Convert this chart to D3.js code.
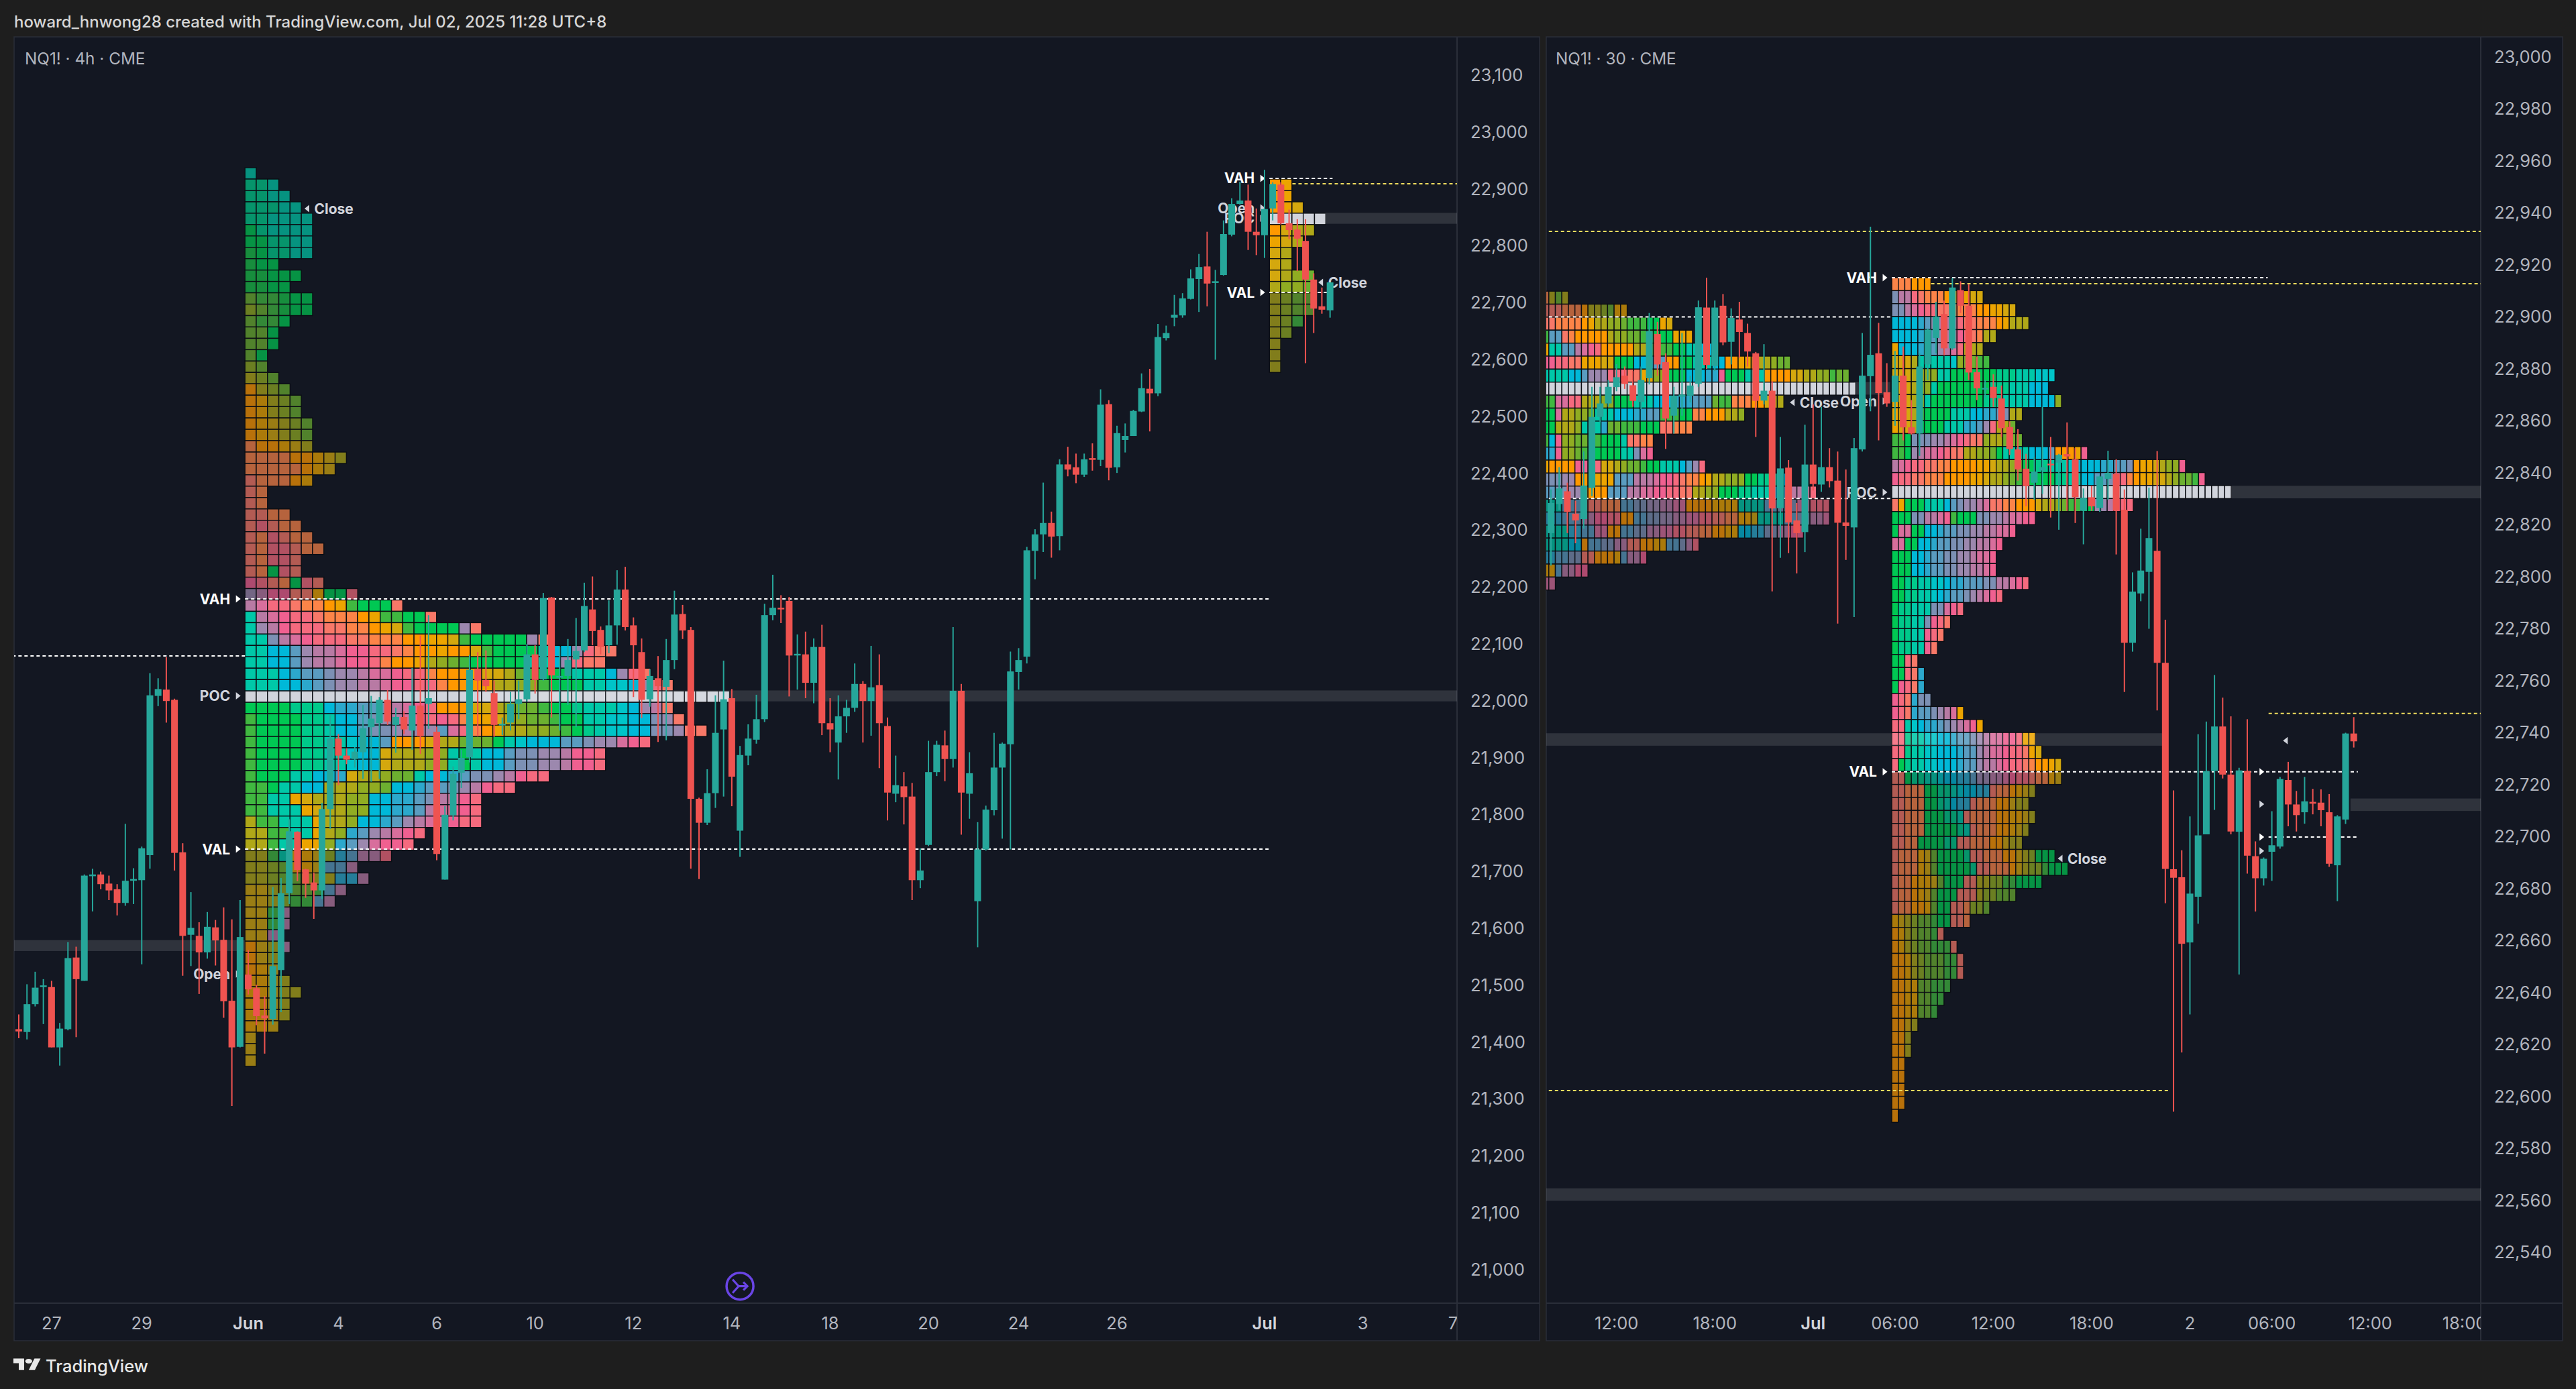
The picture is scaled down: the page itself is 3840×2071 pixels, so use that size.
<!DOCTYPE html>
<html><head><meta charset="utf-8">
<script src="https://cdn.jsdelivr.net/npm/d3@7/dist/d3.min.js"></script>
<style>html,body{margin:0;padding:0;background:#1e1e1e}svg{display:block}text{font-family:Inter,"Noto Sans",sans-serif}</style>
</head><body><svg id="c" width="3840" height="2071"></svg>
<script>
// ---------- candles, 4h pane ----------
const leftOpen=[21423,21418,21467,21497,21497,21391,21423,21549,21508,21692,
21695,21679,21669,21645,21684,21685,21729,22009,22020,22002,
21734,21589,21587,21558,21602,21580,21473,21392,21519,21495,
21447,21441,21527,21662,21770,21704,21681,21667,21810,21934,
21904,21898,21910,21954,21961,22002,21958,21972,21948,21992,
21995,21946,21686,21799,21874,21901,22057,22037,22014,21958,
21962,21995,22003,22082,22038,22182,22041,22044,22073,22089,
22161,22125,22098,22133,22196,22133,22086,22003,22040,22025,
22072,22153,22125,21828,21786,21838,21950,22005,21772,21904,
21932,21968,22151,22164,22176,22081,22082,22032,22095,21961,
21927,21973,21988,22030,22000,22028,21956,21837,21850,21832,
21685,21747,21875,21922,21898,22018,21837,21648,21739,21808,
21883,21924,22051,22078,22264,22293,22313,22290,22416,22411,
22398,22427,22424,22522,22411,22459,22466,22509,22549,22541,
22638,22674,22678,22707,22742,22764,22735,22749,22820,22874,
22880,22825,22819,22866,22908,22840,22829,22809,22741,22694,22687];
const leftClose=[21419,21467,21496,21500,21391,21424,21548,21511,21693,21695,
21678,21667,21645,21684,21687,21741,22010,22021,22000,21733,
21587,21601,21558,21603,21579,21472,21391,21585,21493,21446,
21442,21534,21662,21771,21703,21679,21667,21810,21934,21904,
21897,21911,21952,21969,22002,21964,21972,21950,21992,21938,
22005,21731,21800,21872,21900,22055,22036,22026,21958,21960,
21995,22003,22082,22037,22181,22045,22044,22072,22088,22167,
22123,22095,22133,22196,22130,22098,22002,22044,22026,22072,
22152,22124,21828,21786,21838,21944,22003,21867,21905,21934,
21968,22151,22164,22162,22080,22083,22032,22095,21961,21950,
21973,21988,22030,22000,22024,21961,21839,21852,21831,21685,
21702,21875,21923,21898,22018,21839,21873,21739,21809,21883,
21925,22052,22072,22265,22293,22313,22289,22416,22407,22398,
22425,22424,22521,22410,22471,22466,22510,22550,22541,22640,
22647,22679,22708,22743,22763,22734,22738,22821,22874,22880,
22825,22819,22865,22909,22840,22828,22813,22741,22690,22688,22736];
const leftHigh=[21449,21502,21524,21511,21508,21434,21576,21568,21695,21705,
21700,21693,21678,21784,21706,21744,22049,22040,22077,22004,
21750,21664,21611,21629,21615,21637,21616,21650,21562,21501,
21481,21673,21689,21792,21771,21705,21698,21821,21975,21942,
21917,21919,21993,22009,22007,22019,21988,21982,22058,22115,
22151,21955,21815,21885,21914,22081,22086,22089,22036,21971,
22016,22036,22100,22098,22190,22183,22095,22109,22146,22208,
22219,22131,22177,22230,22236,22147,22110,22056,22079,22109,
22194,22169,22130,21830,21880,22010,22071,22021,21921,21959,
22011,22171,22222,22186,22183,22117,22122,22110,22134,22005,
22010,22002,22066,22035,22097,22082,21971,21904,21875,21856,
21741,21930,21930,21948,22130,22030,21910,21787,21816,21944,
21927,22087,22093,22271,22302,22384,22333,22425,22447,22435,
22435,22453,22548,22529,22484,22488,22512,22576,22584,22663,
22660,22714,22717,22759,22786,22825,22758,22845,22884,22913,
22908,22866,22934,22912,22912,22864,22847,22847,22752,22727,22736];
const leftLow=[21407,21405,21463,21432,21391,21359,21421,21409,21508,21630,
21669,21650,21623,21640,21643,21537,21705,21991,21962,21702,
21517,21534,21485,21547,21535,21443,21288,21391,21484,21430,
21380,21431,21453,21643,21683,21654,21617,21652,21775,21852,
21889,21883,21863,21858,21863,21958,21909,21942,21914,21907,
21951,21720,21686,21790,21847,21892,21938,22016,21937,21940,
21948,21968,21999,22013,22036,21971,21948,21993,21954,22086,
22098,22082,22084,22099,22124,22007,21970,21990,21928,21931,
22056,22109,21705,21687,21782,21812,21832,21815,21726,21887,
21925,21963,22142,22137,22008,22020,22005,21996,21940,21910,
21862,21944,21981,21927,21939,21882,21790,21822,21783,21650,
21671,21745,21868,21859,21883,21765,21793,21567,21737,21799,
21758,21739,22020,22066,22214,22262,22252,22265,22395,22383,
22394,22405,22413,22388,22401,22437,22466,22508,22474,22536,
22634,22659,22674,22706,22684,22694,22600,22748,22817,22873,
22793,22784,22779,22845,22838,22812,22756,22594,22647,22681,22674];
// ---------- candles, 30m pane ----------
const rightOpen=[22816.8,22828,22832.9,22824.3,22822.2,22834.2,22861.5,22866.7,22873,22877.4,
22873.7,22867.3,22876.4,22893.4,22882.6,22862,22869.3,22869.7,22874.3,22903.6,
22881.1,22904.3,22890.4,22899,22893.8,22886,22867.8,22871.6,22826.4,22842,
22821.7,22817.2,22843.2,22835.5,22842.2,22837,22820.9,22819,22849,22877.2,
22886,22871,22867.3,22877.4,22857.5,22855.1,22881.7,22891.9,22901.1,22887.9,
22910.3,22904.3,22878.7,22872.3,22873.1,22868.6,22857.6,22849,22841.6,22836.2,
22840.9,22843.5,22843.9,22847.2,22845.2,22825.4,22830.6,22826.5,22837.7,22839.6,
22825.8,22774.6,22793.6,22801.9,22810,22766.9,22687.5,22684.4,22659.3,22676.9,
22700.9,22725.3,22742.4,22723.9,22701.9,22725.3,22692.5,22684,22694.2,22696.2,
22721.8,22712.4,22709.4,22713.4,22713.1,22709.4,22689,22706.6,22739.7];
const rightClose=[22828.4,22834,22825,22821.7,22835.1,22861.5,22866.7,22873.1,22876.8,22874.2,
22867.7,22875.7,22894.5,22881.7,22860.9,22869.7,22870.1,22873.6,22903.7,22881.5,
22903.6,22890.2,22899.6,22894.2,22886.7,22867.7,22871.6,22826.3,22841.7,22820.9,
22816.8,22843.2,22835.7,22842.2,22836.8,22820.8,22819.6,22849.5,22877.4,22885.4,
22870.7,22866.7,22877.4,22857.5,22855.1,22880.9,22895.1,22900.1,22887.9,22911.3,
22904.3,22878.6,22872.5,22872.7,22868.8,22857.2,22849.2,22841.3,22834.9,22840.5,
22842.2,22842.9,22846.9,22846.3,22830.6,22830.4,22827.1,22838.6,22840,22825.4,
22774.6,22794.3,22802.4,22814.9,22766.9,22687.6,22684.2,22658.8,22678.1,22700.5,
22725.2,22742.4,22723.9,22702,22725.5,22692.7,22684,22691.5,22696.7,22722.2,
22712.4,22708.3,22713.6,22712.7,22710.2,22689.6,22707.8,22739.7,22736.7];
const rightHigh=[22833.6,22842.2,22836.2,22829.3,22848.2,22873.1,22873.1,22875.7,22881.8,22880.9,
22879.2,22880.9,22901.5,22898.1,22886,22873.1,22893.8,22877.4,22906.3,22915.1,
22906.3,22908.8,22903.3,22905.8,22897.4,22886.5,22889.5,22875.3,22853.8,22844.9,
22828.4,22858.5,22866.3,22865.4,22849.5,22848.2,22841.3,22853.4,22893.8,22934.7,
22897.7,22882.2,22886.9,22888.6,22868,22886,22895.5,22905.8,22906.3,22915,
22913.7,22912.7,22884.8,22875.7,22877.9,22873.6,22859.8,22856.8,22847.3,22846,
22865.4,22853.8,22847.3,22859.4,22849.5,22834,22834.9,22839,22848.5,22845.2,
22833.6,22801.7,22818.5,22834.3,22848.4,22783.5,22717.8,22694.8,22707.8,22739.4,
22744.3,22762.2,22753.5,22746.3,22726.5,22745.2,22698.2,22692,22709.8,22723,
22728.8,22717.6,22723,22718.4,22718.2,22716.4,22708.3,22740,22746];
const rightLow=[22804.3,22825.8,22816.8,22812.9,22818.5,22831,22859.4,22865.4,22871.4,22872.3,
22865.4,22864.5,22874,22877.4,22849.2,22855.1,22862,22867.1,22873.1,22880,
22879.2,22889.1,22881.7,22884.3,22880.9,22853.8,22866.3,22794.4,22807.3,22809.1,
22801.3,22809.5,22833.2,22832.7,22834.4,22782,22806.5,22784.5,22848.2,22863.7,
22852.5,22865.4,22858.1,22852.5,22854.7,22846.5,22875.7,22886,22885.2,22887.3,
22901.5,22875.7,22868,22868.8,22865.4,22853.8,22846.9,22837,22827.1,22829.7,
22831.9,22822.8,22818.1,22825.4,22820.7,22812.5,22825.4,22825,22829.7,22808.6,
22755.7,22771.2,22790.6,22780,22748.6,22674.4,22594.2,22617,22631.6,22666.5,
22700.9,22710.3,22722.4,22700.9,22647,22685.8,22671.2,22681.2,22683,22695.4,
22704,22702,22705,22708.6,22704,22688.4,22675.2,22704.9,22734.3];
// ---------- profile letters -> colours ----------
const letters="abcdefghijklmnopqrstuvwz".split("");
const colours=["#00c853","#00c98a","#00c8a8","#00c4c8","#00b8d8","#2ca8cc","#5a9cc0","#7c90b4","#9c88ae","#b87aa4","#d86e9c","#f06090","#f56a7e","#f87868","#fc8448","#ff9800","#eca400","#d4a80e","#b0a818","#90ac22","#6cb030","#40b840","#18c048","#d1d4dc"];
// ---------- profile rows, top to bottom ----------
const bigRows=["c1","b2c1","b2c2","b3c2","b2c4","a1b1c4","a2b2c2","w1a1b2c2","w1a2","w2a3","w2a2","u1v2w1a2","t1u1v1w1a2","u1v2a1","u2a1","u2a1","u1a1","t1u1","s1t1u1","p1s1t1u1","p1q1s1t1u1","p1q1s1t1u1","p1q1r1s1t1u1","p1q1r1s1t1u1","o1p2q1r1s1","o4p2q1r1s1","o5p1q1r1","n1o3p1q1","n1o1","n1o1","n2o2","n1m1n1o2","n1o1m1n1o2","n1o1m2n1o2","n1o1m2n1","n1o1a1m1n1","l1m1n1o1a1m1n1","i1j1l2n2q1a2m1",
"j1k1m2n1o2p1q1v1a3n1","c1j1k1l1m2n1o3p1q1v2a2n1","c1i1j1l1m3n2o2p1q1r1v1a4i1n1","c2h1j1k1l1m3n2o3p2q2r1v1a5i1n1","c2e2g1i1j2k1l2m2n1o1p2q1p2r1v1a4c1e2i1m1n2","c2e2g1i1j2k1l2m1o1p2q1s1t1u1v1a5c2e1i1m1n2","c3e1f1g2h1i2j1k2l1m2o1p3q1r2s1u1v1a3c3e1i1m1n1","c3e2f1g1h1i2j2k1l2m2o1p3q1s2t2v1a3c2d2e1i1m1n1",
"z43","a4b3e1f2g2h1j1k1l1m1p3r2s1t1u2v1a2b1c3d1e1i1j1n1","v1a4b2c1e2g1h1i1j1k1l1m1l1m1o1p1q1r1s1t1u2v1a2c2d2e2h1i1n1","v1a4b2c1e2g1h2i1j1i2g1k1m1o1p1q1s2t2u1v1a1b1c1d2e2h2i1n2","v1a4b2c2d1e2g1p3r1s2u3a1c1d1e3g2h1i2k1l1m1","v1a4b2c2d1e2r1s3t2c1a1c1e2g1h2i2j1l2m1","v1a4b2c2d1e2r1s3t2c1a1c1e2g1h2i2j1l2m1","v1a3c2e2f1r1s2t1u2c1e2f1g1h2i1j1l1m2","v2a1c2e2s3t2u1e2f1g2h1i1j1l1m2","v2c2q1r1s3t2e2f2g1h1j1k1l1m1","v2c3q1r1s2t2e2f2g1j1k1l2m1","s1v2c3q1s2t1e2f1g1i1j1k2l1m2","s2v2c2q1s1t1f1g1i1j1k1l1m1","s2v1c2q2t1f1g1i1k1l2m1",
"s2v1c1q2r1t1f1g1j2m1","s2t1u1q2r1g2j1","s2t1u2s3f2j1","r2s1t1u2v1g1j1","r2s1t1v2g1j1","r2v1j1","r2v1j1","r2j1","p1r1s1j1","p1r1s1","p1q1r1","q2r1s1","q2r1s2","q2r1s1","q2r1s1","q2r1","r1","r1","r1"];
const miniRows=["p1q1","p1q1","p1q1r1","z5","p1r1s2","q1r1s1","r1s1","r1s1","r1s1t1u1","s1t2u1","s1t1u2","s1t1u2","s1t1v1","s1t1","s1","s1","s1"];
const mainRows=["o3p3","h1j2m1n1o3p2q2r2","h2j1k1l1m2n2o4p2q2r2","e4f1g1i1j2k1m1n2o3p1q1s3","e4f1g2i1j1k1l1m1n1o1s2","q1e3f1g2i1j1k1m1s3","r3s1c5d1t1u2v2","r3s2t2c2a7b3c3d3","q1r2s1t2c1a8b3c3e3","q1r2s1t1c1a8b3c4e4t1","q1r2s1v1a4c3e2f2g1h1s2","q1r2s1a4c3f2g1i1m1s2u1","v2a1h3i2j1k1l1m1n2t1s2u3","v2a1i1j1k2l1m1n2s2t2u1a1c4e3g1p3q1l1","j1k1l1m2n2o2p4q2r1s2t1u1a2b2c3d1e4f2g2h1p1q2r1s1t2l1","l1m2n2o3p4q2r1s2t1u1v1a5b2c2e2g2h1k1m1o1p1q2r2s1t1u2v1l1","z52","n1q1a3c3e1g1h1i2j1k1n2o2p3r1s2t1u1v2a2i2j1l1m2","a3h2j2k1l1v1a3h2i2j1k2l2","a1k2a2e2f1g2h2i2j2k2l1",
"k2a2e2f1g2h2i2j2k1l1","a3e2f1g2h2i2j1k2l1","a3e2f1g2h2i2j2k1l1","a2b2c2d2e1f2g3h2j2k1l1m1","a2b2c2d1e1f1g2h1i1j1k1l1m1","a1b2c3h2k1l1m1","a1b2c2h1l1m1n1","a1b2c2l1m1n1","a1b2c2l1n1","a2m1n1","a2m1n1f1","a1l1m1n1f1","l1m1n1f1h2","l1m1n1f1g2h1i1j1k1q1","m2c1d1e1f2g1h1i1j1k1l1q1","m2b1c2d2e2f1g2h1i1j1k2l2m1q2","m2b1c2d2e3f1g2i1j1k2l1m2n1q1r1","m1a1b1c2d2e3f1g2i1j2k1l1m2n1o1p2q1r1",
"n2a1b2c2d1e2f2g1i2j2k1l1m2n1o2q1r1","n2o3a2b2c1d1e2f2n1o2p1q1r1s1","n2o3a2b1c1e1f2n1o3p2r1s2","n2o3a3b2c1n1o4p2q2r1s1","n2o3a5b1c1n1o3p2q1r1s1","n2o2a4b2n2o3p2r1s2","n1o3q1r1u1a4b1n2o3p2r1s1t1a3","n1o3q1r1u1a5b1n2o3p1r1s1t2v1a3","n1o2p1q2r1u1a3n2s2t2v2a4","n1o2p1q1r1u1a3n3s1t2u3","n1o2p2q1u1a2n2o1t2u1","q1r1s1t1u2v1a2n2o1","p1q1s1t1u2v1n1","p1q1s1t1u2v3n1","p2q1s1t1u3v2n1","p2q1s1t1u3v2n1","p2q2u2v3","p2q2u2v2","p2q2u2v1","p2r1s1","p2s1","p2s1","p2","p2","p2","p2","p1"];
const prevRows=["o1s1u1s1","n3o3p1s2t1u1q2","n2o4p1q1s2t2u1v3a2q1r1","v1g2n1o1p5s1t2u2v2a3q3","q1c2g2j1k1l1m1p5s2u2v2a2c2e2q1","l2m2n2q3r2a3e2f1g2p2a2c3e2p2q2r1s2t1u2","c4e2g1i3m3n2q2t2a3e3f2l1a3c3p4r2s2t2v1u2","z48","v2k2m2s3t2a3c3e3f3g3u1v2o3p2r1s2","a2k1s2t2u1c3e3f2g2v3a2o2p3s2t1","a2s3t1c3f1u2v3a3n2o3","v1e1l1t2u2v2a3c1n2o2","f2l1t2u1v2a4c2h1k1l1","q1p4l2m2r2s1t1u2v1a2c3e1g1i1m1","h3i2p2q4g3j3k1l2m1n1o2p1q1s2t3a2b2c2e1","g2h2i2p4g3j2k2l2m2n2s2t2a3b2c3e1g2j2l1m1","c3g3n3o3g2h2i2j2k2p4q4c4g2h3k2m3","f3g3j2l2m2p2g2h2i2j2k2m2n2o2q2r1c4g2h2j2k1","c4f2g2k2p2g2h2j2k2m2n2o2p2q2e2f2h2j2l2","c4e2p1g2h2j2n2p2q2g2h1j1m1","f2g2h2n2p3q1g1j2l1","q2g1j2l2","k2"];
// ---------- axis labels ----------
const leftPriceTicks=[23100,23000,22900,22800,22700,22600,22500,22400,22300,22200,22100,22000,21900,21800,21700,21600,21500,21400,21300,21200,21100,21000];
const rightPriceTicks=[23000,22980,22960,22940,22920,22900,22880,22860,22840,22820,22800,22780,22760,22740,22720,22700,22680,22660,22640,22620,22600,22580,22560,22540];
const leftTimeLabels=["27","29","Jun","4","6","10","12","14","18","20","24","26","Jul","3","7"];
const leftTimeBars=[4,15,28,39,51,63,75,87,99,111,122,134,152,164,175];
const rightTimeLabels=["12:00","18:00","Jul","06:00","12:00","18:00","2","06:00","12:00","18:00"];
const rightTimeBars=[8,20,32,42,54,66,78,88,100,111.5];
// ---------- levels: [price, fromBar, toBar] ----------
const leftWhite=[[22179.5,27.6,152.6],[21739.6,27.6,152.6],[22079.2,-3,27.6],[22918.9,152.6,160.3],[22718.4,152.6,159.6]];
const leftYellow=[[22909.4,155.4,180]];
const leftBands=[[22009,56.5,180],[21570,-3,27.6],[22848.7,159.4,180]];
const rightWhite=[[22915.1,41.6,87.5],[22900,-1,41.6],[22830.1,-1,41.6],[22725,41.6,98.5],[22699.9,87.6,98.5]];
const rightYellow=[[22932.9,-1,115],[22912.8,46.4,115],[22602.3,-1,75.5],[22747.4,87.6,115]];
const rightBands=[[22832.6,83,115],[22872.5,37,41.4],[22737.4,-1,74.6],[22712.3,97.6,115],[22562.3,-1,115]];
// ---------- annotation labels: [text, side, bar, price, bright] ----------
const leftLabels=[["VAH","l",27.6,22179.5,1],["POC","l",27.6,22009,0],["VAL","l",27.6,21739.6,1],["Open","l",27.6,21520,0],["Close","r",34.5,22865.8,0],["VAH","l",152.6,22919,1],["Open","l",152.6,22867,0],["POC","l",152.6,22848.7,0],["VAL","l",152.6,22718.4,1],["Close","r",158.2,22736,0]];
const rightLabels=[["VAH","l",41.6,22915.1,1],["Open","l",41.6,22867.6,0],["POC","l",41.6,22832.5,0],["VAL","l",41.6,22725,1],["Close","r",28.8,22867.1,0],["Close","r",61.5,22691.6,0],["","l",87.6,22725,1],["","l",87.6,22712.5,0],["","l",87.6,22699.9,1],["","l",87.6,22694.5,0],["","r",89,22737,0]];

const svg=d3.select("#c");
const BG="#1e1e1e",PANE="#131722",BORDER="#2a2e39",TXT="#b2b5be",GREEN="#26a69a",RED="#ef5350",WHITE="#d1d4dc",YEL="#efdc5e";
const colourOf=d3.scaleOrdinal().domain(letters).range(colours);
const expand=s=>(s.match(/[a-z]\d+/g)||[]).flatMap(t=>d3.range(+t.slice(1)).map(()=>t[0]));
svg.append("rect").attr("width",3840).attr("height",2071).attr("fill",BG);

const defs=svg.append("defs");
function pane(id,x0,x1,xDiv,y0,yAxis,y1){
  svg.append("rect").attr("x",x0).attr("y",y0).attr("width",x1-x0).attr("height",y1-y0).attr("fill",PANE).attr("stroke",BORDER).attr("stroke-width",1.5);
  svg.append("line").attr("x1",xDiv).attr("x2",xDiv).attr("y1",y0).attr("y2",y1).attr("stroke",BORDER).attr("stroke-width",2);
  svg.append("line").attr("x1",x0).attr("x2",x1).attr("y1",yAxis).attr("y2",yAxis).attr("stroke",BORDER).attr("stroke-width",2);
  defs.append("clipPath").attr("id",id).append("rect").attr("x",x0).attr("y",y0).attr("width",xDiv-x0).attr("height",yAxis-y0);
  defs.append("clipPath").attr("id",id+"t").append("rect").attr("x",x0).attr("y",yAxis).attr("width",xDiv-x0).attr("height",y1-yAxis);
  return svg.append("g").attr("clip-path",`url(#${id})`);
}
const TOP=55,AXIS=1943,BOT=1999;
const gL=pane("pl",21,2295,2172,TOP,AXIS,BOT);
const gR=pane("pr",2305,3820,3698,TOP,AXIS,BOT);
const xL=d3.scaleLinear().domain([0,160]).range([28,1982.7]);
const xR=d3.scaleLinear().domain([0,98]).range([2312,3508.7]);
const yL=d3.scaleLinear().domain([21000,23100]).range([1893.2,112.4]);
const yR=d3.scaleLinear().domain([22540,23000]).range([1867.5,85]);

function bands(g,x,y,data,half){
  g.append("g").selectAll("rect").data(data).join("rect")
    .attr("x",d=>x(d[1])).attr("width",d=>x(d[2])-x(d[1]))
    .attr("y",d=>y(d[0]+half)).attr("height",d=>y(d[0]-half)-y(d[0]+half))
    .attr("fill","rgba(255,255,255,0.12)");
}
function profile(g,x,y,rows,startBar,colBars,topPrice,step,vaFrom,vaTo){
  const cw=x(colBars)-x(0),cells=[];
  rows.forEach((r,i)=>expand(r).forEach((k,j)=>cells.push({i,j,k})));
  const colX=d3.scaleLinear().domain([0,1]).range([x(startBar),x(startBar+colBars)]);
  const rowY=d3.scaleLinear().domain([0,1]).range([y(topPrice),y(topPrice-step)]);
  g.append("g").selectAll("rect").data(cells).join("rect")
    .attr("x",d=>colX(d.j)).attr("y",d=>rowY(d.i)).attr("width",cw).attr("height",rowY(1)-rowY(0))
    .attr("fill",d=>d3.interpolateRgb(PANE,colourOf(d.k))((d.i<vaFrom||d.i>vaTo)?0.7:1))
    .attr("stroke","#0b0e14").attr("stroke-width",1.4);
}
function levels(g,x,y,data,col){
  g.append("g").selectAll("line").data(data).join("line")
    .attr("x1",d=>x(d[1])).attr("x2",d=>x(d[2])).attr("y1",d=>y(d[0])).attr("y2",d=>y(d[0]))
    .attr("stroke",col).attr("stroke-width",2).attr("stroke-dasharray","5 4");
}
function labels(g,x,y,data){
  const ls=g.append("g");
  data.forEach(([t,side,bar,price,bright])=>{
    const ax=x(bar),ay=y(price),col=bright?"#ffffff":WHITE;
    const tx=side==="l"?ax-10:ax+8,s=side==="l"?1:-1;
    ls.append("path").attr("d",`M${tx-3.5*s} ${ay-5.5}L${tx+3.5*s} ${ay}L${tx-3.5*s} ${ay+5.5}Z`).attr("fill",col);
    if(t)ls.append("text").attr("x",side==="l"?ax-22:ax+19).attr("y",ay).attr("dy","0.36em")
      .attr("text-anchor",side==="l"?"end":"start").attr("font-size",21).attr("font-weight",700).attr("fill",col).text(t);
  });
}
function candles(g,x,y,O,H,L,C){
  const idx=d3.range(O.length),c=i=>C[i]>=O[i]?GREEN:RED;
  g.append("g").selectAll("line").data(idx).join("line")
    .attr("x1",x).attr("x2",x).attr("y1",i=>y(H[i])).attr("y2",i=>y(L[i]))
    .attr("stroke",c).attr("stroke-width",2);
  g.append("g").selectAll("rect").data(idx).join("rect")
    .attr("x",i=>x(i)-5).attr("width",10)
    .attr("y",i=>y(Math.max(O[i],C[i])))
    .attr("height",i=>Math.max(2.5,y(Math.min(O[i],C[i]))-y(Math.max(O[i],C[i]))))
    .attr("fill",c);
}
// left pane
profile(gL,xL,yL,bigRows,27.6,1.375,22937.7,20,38,59);
profile(gL,xL,yL,miniRows,152.6,1.375,22917.7,20,0,9);
bands(gL,xL,yL,leftBands,9.6);
levels(gL,xL,yL,leftWhite,"#ffffff");
levels(gL,xL,yL,leftYellow,YEL);
labels(gL,xL,yL,leftLabels);
candles(gL,xL,yL,leftOpen,leftHigh,leftLow,leftClose);
// right pane
profile(gR,xR,yR,prevRows,-1.06,0.797,22909.9,5,2,15);
profile(gR,xR,yR,mainRows,41.6,0.797,22915.1,5,0,37);
bands(gR,xR,yR,rightBands,2.4);
levels(gR,xR,yR,rightWhite,"#ffffff");
levels(gR,xR,yR,rightYellow,YEL);
labels(gR,xR,yR,rightLabels);
candles(gR,xR,yR,rightOpen,rightHigh,rightLow,rightClose);

// axes
function priceAxis(x,y,ticks){
  svg.append("g").attr("transform",`translate(${x},0)`)
    .call(d3.axisRight(y).tickValues(ticks).tickSize(0).tickPadding(0).tickFormat(d3.format(",")))
    .call(a=>a.select(".domain").remove())
    .call(a=>a.selectAll("text").attr("font-size",25.5).attr("fill",TXT).attr("font-family","Inter"));
}
priceAxis(2192,yL,leftPriceTicks);
priceAxis(3718,yR,rightPriceTicks);
function timeAxis(id,x,bars,labs){
  const a=svg.append("g").attr("clip-path",`url(#${id})`);
  a.selectAll("text").data(bars).join("text").attr("x",x).attr("y",1973).attr("dy","0.36em").attr("text-anchor","middle")
    .attr("font-size",25.5).attr("fill",(d,i)=>/J/.test(labs[i])?WHITE:TXT).attr("font-weight",(d,i)=>/J/.test(labs[i])?600:400)
    .text((d,i)=>labs[i]);
}
timeAxis("plt",xL,leftTimeBars,leftTimeLabels);
timeAxis("prt",xR,rightTimeBars,rightTimeLabels);

// titles
svg.append("text").attr("x",21).attr("y",32).attr("dy","0.36em").attr("font-size",24).attr("font-weight",500).attr("fill","#d6d6d6")
  .text("howard_hnwong28 created with TradingView.com, Jul 02, 2025 11:28 UTC+8");
svg.append("text").attr("x",37).attr("y",87).attr("dy","0.36em").attr("font-size",24.3).attr("fill",TXT).text("NQ1! · 4h · CME");
svg.append("text").attr("x",2319).attr("y",87).attr("dy","0.36em").attr("font-size",24.3).attr("fill",TXT).text("NQ1! · 30 · CME");

// purple session marker
const mk=svg.append("g").attr("transform",`translate(${xL(88)},1917.7)`).attr("fill","none").attr("stroke","#6a45e6");
mk.append("circle").attr("r",20).attr("stroke-width",3.5);
mk.append("path").attr("d","M-11 -10L-2 0L-11 10M-2 0H11M5 -6L11 0L5 6").attr("stroke-width",3.2);

// TradingView mark
const lg=svg.append("g").attr("transform","translate(20,2024) scale(1.14,0.78)").attr("fill","#e8e8e8");
lg.append("path").attr("d","M14 24H7V11H0V2h14z");
lg.append("circle").attr("cx",20).attr("cy",7).attr("r",4.5);
lg.append("path").attr("d","M28 24h-8l7.5-22h8z");
svg.append("text").attr("x",68).attr("y",2037).attr("dy","0.36em").attr("font-size",25.5).attr("font-weight",500).attr("fill","#e8e8e8").text("TradingView");
</script></body></html>
